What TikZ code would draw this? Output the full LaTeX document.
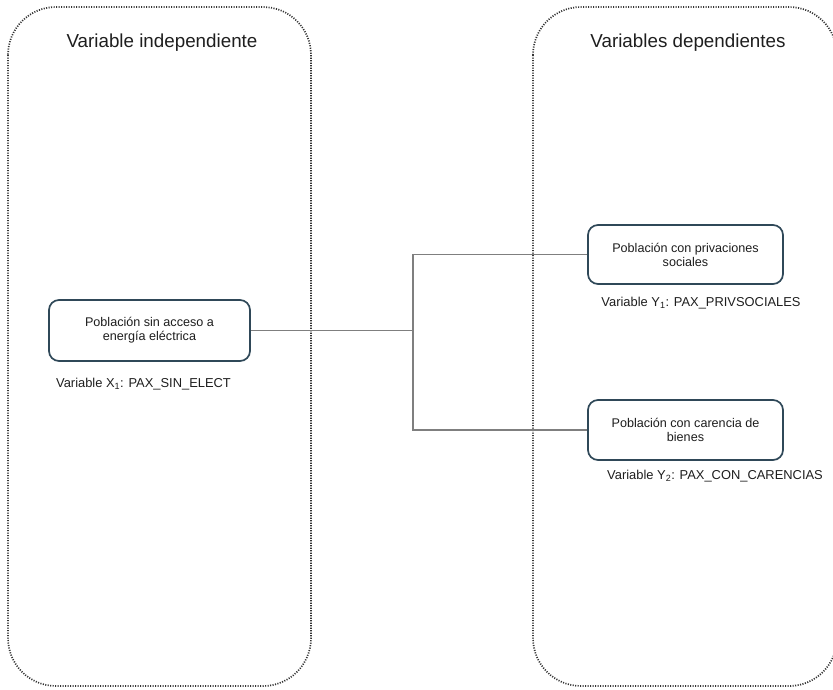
\documentclass[tikz,border=0pt]{standalone}
\usepackage{fontspec}
\setmainfont{Liberation Sans}
\definecolor{boxline}{HTML}{2F4858}
\definecolor{linkgray}{HTML}{7F7F7F}
\definecolor{frameline}{HTML}{333333}
\definecolor{txt}{HTML}{1E1E1E}
\tikzset{
  groupframe/.style={draw=frameline, line width=1.7pt,
    dash pattern=on 1.1pt off 1.4pt, rounded corners=48pt},
  varbox/.style={draw=boxline, line width=1.7pt, rounded corners=10pt,
    fill=white, align=center, text=txt, inner sep=0pt,
    font=\fontsize{12.6}{14}\selectfont},
  title/.style={text=txt, font=\fontsize{18.8}{22}\selectfont},
  varlabel/.style={text=txt, font=\fontsize{12.9}{15}\selectfont},
  link/.style={draw=linkgray, line width=1.2pt},
}
\begin{document}
\begin{tikzpicture}[x=1pt,y=-1pt]
\useasboundingbox (0,0) rectangle (833,689);

% group frames
\draw[groupframe] (8,7) rectangle (311,686);
\draw[groupframe] (533,7) rectangle (837,686);
\node[title] (tind) at (162,43) {Variable independiente};
\node[title] (tdep) at (688,43) {Variables dependientes};

% variable boxes
\node[varbox, minimum width=201pt, minimum height=61pt] (x1) at (149.5,330.5)
  {Población sin acceso a\\energía eléctrica};
\node[varbox, minimum width=195pt, minimum height=59pt] (y1) at (685.5,254.5)
  {Población con privaciones\\sociales};
\node[varbox, minimum width=195pt, minimum height=60pt] (y2) at (685.5,430)
  {Población con carencia de\\bienes};

% variable names
\node[varlabel] (lx1) at (143.5,384) {Variable X\textsubscript{1}: PAX\_SIN\_ELECT};
\node[varlabel] (ly1) at (701,303) {Variable Y\textsubscript{1}: PAX\_PRIVSOCIALES};
\node[varlabel] (ly2) at (715,476) {Variable Y\textsubscript{2}: PAX\_CON\_CARENCIAS};

% connectors
\coordinate (j) at (413,331);
\draw[link] (x1.east) -- (x1.east -| j);
\draw[link] (y1.west) -- (y1.west -| j) -- (y2.west -| j) -- (y2.west);
\end{tikzpicture}
\end{document}
